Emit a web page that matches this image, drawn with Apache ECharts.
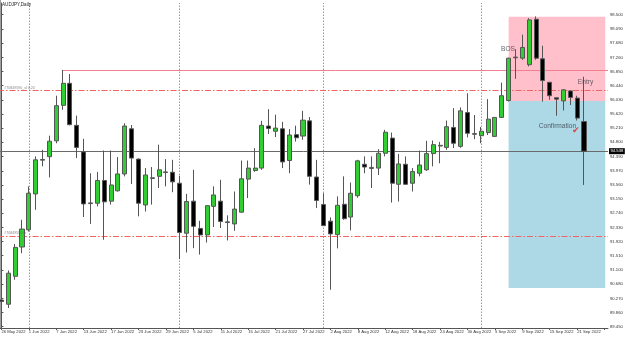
<!DOCTYPE html>
<html><head><meta charset="utf-8">
<script src="https://cdn.jsdelivr.net/npm/echarts@6/dist/echarts.min.js"></script>
<style>html,body{margin:0;padding:0;background:#fff}#c{width:625px;height:337px}</style>
</head><body><div id="c"></div>
<script>
const dates = ['26 May 2022','27 May 2022','30 May 2022','31 May 2022','1 Jun 2022','2 Jun 2022','3 Jun 2022','6 Jun 2022','7 Jun 2022','8 Jun 2022','9 Jun 2022','10 Jun 2022','13 Jun 2022','14 Jun 2022','15 Jun 2022','16 Jun 2022','17 Jun 2022','20 Jun 2022','21 Jun 2022','22 Jun 2022','23 Jun 2022','24 Jun 2022','27 Jun 2022','28 Jun 2022','29 Jun 2022','30 Jun 2022','1 Jul 2022','4 Jul 2022','5 Jul 2022','6 Jul 2022','7 Jul 2022','8 Jul 2022','11 Jul 2022','12 Jul 2022','13 Jul 2022','14 Jul 2022','15 Jul 2022','18 Jul 2022','19 Jul 2022','20 Jul 2022','21 Jul 2022','22 Jul 2022','25 Jul 2022','26 Jul 2022','27 Jul 2022','28 Jul 2022','29 Jul 2022','1 Aug 2022','2 Aug 2022','3 Aug 2022','4 Aug 2022','5 Aug 2022','8 Aug 2022','9 Aug 2022','10 Aug 2022','11 Aug 2022','12 Aug 2022','15 Aug 2022','16 Aug 2022','17 Aug 2022','18 Aug 2022','19 Aug 2022','22 Aug 2022','23 Aug 2022','24 Aug 2022','25 Aug 2022','26 Aug 2022','29 Aug 2022','30 Aug 2022','31 Aug 2022','1 Sep 2022','2 Sep 2022','5 Sep 2022','6 Sep 2022','7 Sep 2022','8 Sep 2022','9 Sep 2022','12 Sep 2022','13 Sep 2022','14 Sep 2022','15 Sep 2022','16 Sep 2022','19 Sep 2022','20 Sep 2022','21 Sep 2022','22 Sep 2022'];
const futureSlots = ['', '', ''];
const opens  = [90.22,90.10,90.91,91.76,92.26,93.30,94.28,94.38,94.84,95.87,96.51,95.29,94.52,93.02,93.03,93.69,93.09,93.39,93.88,95.19,94.31,92.98,93.75,93.81,93.92,93.93,93.61,92.16,93.09,92.30,92.11,92.94,93.09,92.47,92.43,92.77,93.73,93.98,94.05,95.27,95.12,95.19,94.27,95.02,94.98,95.42,93.79,92.99,92.51,92.12,93.00,92.63,93.25,94.16,94.04,94.05,94.48,94.92,93.58,94.16,93.61,93.90,94.00,94.47,94.69,94.65,95.23,94.68,95.66,95.03,94.99,95.08,94.97,95.52,96.01,97.25,97.24,97.05,98.37,97.22,96.54,96.09,96.00,96.29,96.08,95.40];
const closes = [90.18,91.00,91.75,92.28,93.32,94.29,94.30,94.83,95.86,96.51,95.31,94.65,93.01,93.04,93.69,93.07,93.56,93.88,95.27,94.34,93.03,93.85,93.77,94.00,93.94,93.65,92.18,93.08,92.36,92.11,92.96,93.27,92.50,92.49,92.86,93.74,94.05,94.05,95.29,95.20,95.21,94.23,95.01,94.93,95.44,93.81,93.11,92.38,92.14,92.97,92.58,93.32,94.26,94.08,94.07,94.48,95.09,93.61,94.17,93.58,93.95,94.14,94.47,94.73,94.71,95.25,94.77,95.71,95.06,95.05,95.12,95.47,95.52,96.15,97.24,97.27,97.55,98.35,97.24,96.59,96.15,96.05,96.32,96.10,95.50,94.54];
const lows   = [89.64,89.99,90.81,91.58,92.21,92.84,94.10,93.78,94.77,95.74,95.29,94.34,92.63,92.43,92.94,91.97,92.99,93.37,93.81,93.59,92.65,92.79,92.99,93.47,93.52,93.35,91.41,91.60,91.73,91.54,91.89,92.34,92.31,91.95,92.23,92.76,93.18,93.94,94.00,95.04,94.95,94.05,93.90,94.82,94.87,93.57,92.89,92.37,90.52,91.72,92.55,92.24,93.19,93.90,93.47,93.85,94.39,93.05,93.08,93.57,93.37,93.81,93.97,94.10,94.19,94.58,94.63,94.64,94.94,94.89,94.77,95.01,94.95,95.50,95.98,96.64,97.19,97.00,97.19,95.98,96.03,95.57,95.72,95.88,95.43,93.56];
const highs  = [90.66,91.08,91.85,92.55,93.52,94.39,94.58,94.99,96.15,96.90,96.78,95.57,94.90,93.90,93.94,94.56,94.56,94.37,95.35,95.30,94.33,94.05,94.08,94.73,94.31,94.29,93.83,93.30,94.00,92.52,92.97,93.52,93.71,92.68,93.37,94.27,94.27,94.63,95.42,95.76,95.60,95.39,95.18,95.28,95.71,95.53,94.29,93.32,92.62,93.23,93.81,93.63,94.29,94.39,94.39,94.60,95.16,95.08,94.46,94.39,94.05,94.56,94.84,94.85,94.81,95.43,95.79,95.81,96.22,95.59,95.24,96.05,95.53,96.53,97.25,97.50,97.92,98.40,98.45,97.60,96.55,96.10,96.34,96.30,96.15,96.70];
const priceTicks = [98.500,98.090,97.680,97.260,96.850,96.440,96.030,95.620,95.210,94.800,94.390,93.970,93.560,93.150,92.740,92.330,91.920,91.510,91.100,90.680,90.270,89.860,89.450];
const lastPrice = 94.538;
const monthStarts = ['1 Jun 2022','1 Jul 2022','1 Aug 2022','1 Sep 2022'];
const swingHighLevel = 96.88;
const swingHighFromIndex = 9;
const dashLevels = [96.30, 92.08];
const zoneTop = 98.44, zoneMid = 96.00, zoneBottom = 90.57;
const zoneFromIndex = 74, zoneToIndex = 88.1;
const noteTexts = ['BOS','Entry','Confirmation','\u2714','#70849590_sl 0.20','#70849590 tp'];
const noteIndex = [72.9, 84.1, 78.4, 83.9, 0.4, 0.4];
const notePrice = [97.50, 96.55, 95.26, 95.13, 96.37, 92.17];

const FONT = 'Liberation Sans';
const cats = dates.concat(futureSlots);
const candleData = opens.map((o, i) => [o, closes[i], lows[i], highs[i]]);

const noteStyles = [
  {fontSize: 6.6, color: '#3a3f4a', position: 'right'},
  {fontSize: 6.6, color: '#3a3f4a', position: 'right'},
  {fontSize: 6.6, color: '#3a3f4a', position: 'right'},
  {fontSize: 9, color: '#e0202a', position: 'inside'},
  {fontSize: 3.6, color: '#666', position: 'right'},
  {fontSize: 3.6, color: '#666', position: 'right'}
];
const noteData = noteTexts.map((t, i) => ({
  value: [noteIndex[i], notePrice[i]],
  label: Object.assign({show: true, formatter: t, distance: 0, fontFamily: FONT, align: noteStyles[i].position === 'inside' ? 'center' : 'left', verticalAlign: 'middle'}, noteStyles[i])
}));

const chart = echarts.init(document.getElementById('c'), null, {renderer: 'canvas'});
chart.setOption({
  animation: false,
  backgroundColor: '#fff',
  title: {text: 'AUDJPY,Daily', left: 2, top: 2, padding: 0,
    textStyle: {fontSize: 4.6, fontWeight: 'normal', color: '#222', fontFamily: FONT}},
  graphic: [{type: 'line', z: 0, shape: {x1: 0.5, y1: 0, x2: 0.5, y2: 328}, style: {stroke: '#a0a0a0', lineWidth: 1}}],
  grid: {left: -2, right: 17, top: 3, bottom: 9, containLabel: false, outerBoundsMode: 'none'},
  xAxis: [{
    type: 'category', data: cats, boundaryGap: true,
    axisLine: {show: true, lineStyle: {color: '#555', width: 1}},
    axisTick: {show: true, interval: 3, alignWithLabel: true, length: 2, lineStyle: {color: '#555'}},
    axisLabel: {interval: 3, align: 'left', fontSize: 4.2, margin: 2, color: '#333', fontFamily: FONT, hideOverlap: false},
    splitLine: {show: false}
  }, {
    type: 'value', min: -0.5, max: cats.length - 0.5, show: false
  }],
  yAxis: {
    type: 'value', position: 'right', min: 89.41, max: 98.84, scale: true,
    axisLine: {show: true, lineStyle: {color: '#555', width: 1}},
    axisTick: {show: true, length: 2, customValues: priceTicks, lineStyle: {color: '#555'}},
    axisLabel: {customValues: priceTicks, formatter: v => v.toFixed(3), fontSize: 4.2, margin: 2, color: '#333', fontFamily: FONT, hideOverlap: false},
    splitLine: {show: false}
  },
  series: [{
    type: 'candlestick', name: 'AUDJPY', xAxisIndex: 0, data: candleData, barWidth: '66%', z: 5,
    itemStyle: {color: '#32cd32', color0: '#000000', borderColor: '#555', borderColor0: '#555', borderWidth: 1},
    markLine: {
      silent: true, symbol: ['none', 'none'], animation: false, z: 2,
      data: monthStarts.map(d => ({xAxis: d, label: {show: false}, lineStyle: {color: '#9a9a9a', type: [1.5, 1.5], width: 1}}))
        .concat([{yAxis: lastPrice, lineStyle: {color: '#6a6a6a', type: 'solid', width: 1},
          label: {show: true, position: 'end', distance: 1, formatter: lastPrice.toFixed(3), backgroundColor: '#000', color: '#fff', fontSize: 4.2, padding: [1, 1.5], fontFamily: FONT}}])
    }
  }, {
    type: 'scatter', name: 'notes', xAxisIndex: 1, symbolSize: 0, z: 6, data: noteData,
    markArea: {
      silent: true, z: 1,
      data: [
        [{coord: [zoneFromIndex, zoneTop], itemStyle: {color: '#ffc0cb', opacity: 1}}, {coord: [zoneToIndex, zoneMid]}],
        [{coord: [zoneFromIndex, zoneMid], itemStyle: {color: '#add8e6', opacity: 1}}, {coord: [zoneToIndex, zoneBottom]}]
      ]
    },
    markLine: {
      silent: true, symbol: ['none', 'none'], animation: false, z: 3,
      label: {show: false},
      data: dashLevels.map(v => ({yAxis: v, lineStyle: {color: '#f06464', type: [6, 2, 1.5, 2], width: 1}}))
        .concat([[{coord: [swingHighFromIndex, swingHighLevel], lineStyle: {color: '#f0808e', type: 'solid', width: 1}}, {coord: [cats.length - 0.5, swingHighLevel]}]])
    }
  }]
});
</script></body></html>
